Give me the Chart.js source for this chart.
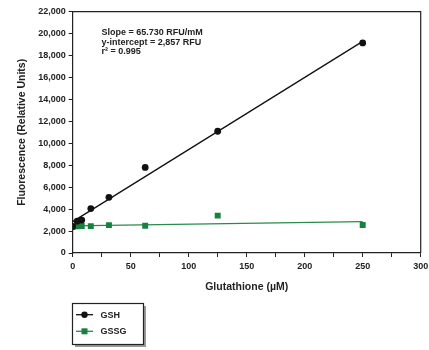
<!DOCTYPE html>
<html>
<head>
<meta charset="utf-8">
<script src="https://cdn.jsdelivr.net/npm/chart.js@4"></script>
<style>
  html, body { margin: 0; padding: 0; background: #fff; }
  #wrap { width: 429px; height: 350px; position: relative; }
</style>
</head>
<body>
<div id="wrap"><canvas id="c" width="429" height="350"></canvas></div>
<script>
// ---- data ----
const concentrations = [0, 3.9, 7.8, 15.6, 31.25, 62.5, 125, 250];      // µM
const gshValues      = [2420, 2900, 3000, 4050, 5080, 7800, 11100, 19150];
const gssgValues     = [2400, 2430, 2460, 2450, 2540, 2480, 3410, 2560];
const fitX           = [0, 250];
const gshFitValues   = [2857, 19290];
const gssgFitValues  = [2480, 2860];
const seriesLabels   = ['GSH', 'GSSG'];
const annotationLines = ['Slope = 65.730 RFU/mM', 'y-intercept = 2,857 RFU', 'r\u00B2 = 0.995'];
const xTitle = 'Glutathione (\u00B5M)';
const yTitle = 'Fluorescence (Relative Units)';

const FONT = 'Arial, "Liberation Sans", Helvetica, sans-serif';
const BLACK = '#111';
const GREEN = '#17813f';
const GREEN_LINE = '#2a8a4c';

const pts = (xs, ys) => xs.map((x, i) => ({x, y: ys[i]}));

const framePlugin = {
  id: 'frame',
  afterDatasetsDraw(chart) {
    const {ctx, chartArea: a} = chart;
    ctx.save();
    ctx.strokeStyle = '#222';
    ctx.lineWidth = 1.2;
    ctx.beginPath();
    ctx.moveTo(a.left, a.top);
    ctx.lineTo(a.right, a.top);
    ctx.lineTo(a.right, a.bottom);
    ctx.stroke();
    // annotation text
    ctx.fillStyle = '#222';
    ctx.font = 'bold 9px ' + FONT;
    ctx.textAlign = 'left';
    ctx.textBaseline = 'alphabetic';
    const baselines = [35, 44.5, 54];
    annotationLines.forEach((t, i) => ctx.fillText(t, 101.5, baselines[i]));
    ctx.restore();
  },
  afterDraw(chart) {
    const {ctx} = chart;
    ctx.save();
    // legend box with shadow
    const bx = 72.5, by = 303.5, bw = 71, bh = 41;
    ctx.fillStyle = '#9a9a9a';
    ctx.fillRect(bx + 2.5, by + 2.5, bw, bh);
    ctx.fillStyle = '#fff';
    ctx.fillRect(bx, by, bw, bh);
    ctx.strokeStyle = '#222';
    ctx.lineWidth = 1.2;
    ctx.strokeRect(bx, by, bw, bh);
    const rows = [314.7, 331.3];
    const colors = [BLACK, GREEN];
    ctx.font = 'bold 9px ' + FONT;
    ctx.textBaseline = 'middle';
    ctx.textAlign = 'left';
    seriesLabels.forEach((lab, i) => {
      const y = rows[i];
      ctx.strokeStyle = i === 0 ? BLACK : GREEN_LINE;
      ctx.lineWidth = 1.3;
      ctx.beginPath();
      ctx.moveTo(76, y);
      ctx.lineTo(93, y);
      ctx.stroke();
      ctx.fillStyle = colors[i];
      if (i === 0) {
        ctx.beginPath();
        ctx.arc(84.5, y, 3.2, 0, Math.PI * 2);
        ctx.fill();
      } else {
        ctx.fillRect(84.5 - 3, y - 3, 6, 6);
      }
      ctx.fillStyle = '#222';
      ctx.fillText(lab, 100.5, y + 0.5);
    });
    ctx.restore();
  }
};

new Chart(document.getElementById('c'), {
  type: 'scatter',
  data: {
    datasets: [
      {
        label: seriesLabels[0] + ' fit',
        data: pts(fitX, gshFitValues),
        showLine: true, borderColor: BLACK, borderWidth: 1.3,
        pointRadius: 0, order: 3
      },
      {
        label: seriesLabels[1] + ' fit',
        data: pts(fitX, gssgFitValues),
        showLine: true, borderColor: GREEN_LINE, borderWidth: 1.3,
        pointRadius: 0, order: 4
      },
      {
        label: seriesLabels[1],
        data: pts(concentrations, gssgValues),
        pointStyle: 'rect', pointRadius: 4.2, pointHoverRadius: 4.2,
        backgroundColor: GREEN, borderColor: GREEN, borderWidth: 0, order: 2
      },
      {
        label: seriesLabels[0],
        data: pts(concentrations, gshValues),
        pointStyle: 'circle', pointRadius: 3.4, pointHoverRadius: 3.4,
        backgroundColor: BLACK, borderColor: BLACK, borderWidth: 0, order: 1
      }
    ]
  },
  options: {
    responsive: false,
    animation: false,
    events: [],
    layout: { padding: { left: 0, right: 8.3, top: 11.7, bottom: 57 } },
    plugins: { legend: { display: false }, tooltip: { enabled: false } },
    scales: {
      x: {
        type: 'linear', min: 0, max: 300,
        afterFit: s => { s.height = 40; s.paddingLeft = 0; s.paddingRight = 0; },
        border: { display: true, color: '#222', width: 1.2 },
        grid: { drawOnChartArea: false, drawTicks: true, tickLength: 4, tickColor: '#222', tickWidth: 1 },
        ticks: {
          stepSize: 25, autoSkip: false, maxRotation: 0, padding: 4,
          color: '#222', font: { family: FONT, size: 9, weight: 'bold' },
          callback: v => (v % 50 === 0 ? String(v) : '')
        },
        title: {
          display: true, text: xTitle, color: '#222',
          font: { family: FONT, size: 10.5, weight: 'bold' },
          padding: { top: 0, bottom: 0 }
        }
      },
      y: {
        type: 'linear', min: 0, max: 22000,
        afterFit: s => { s.width = 72.7; s.paddingTop = 0; s.paddingBottom = 0; },
        border: { display: true, color: '#222', width: 1.2 },
        grid: { drawOnChartArea: false, drawTicks: true, tickLength: 4, tickColor: '#222', tickWidth: 1 },
        ticks: {
          stepSize: 2000, autoSkip: false, padding: 3,
          color: '#222', font: { family: FONT, size: 9, weight: 'bold' },
          callback: v => v.toLocaleString('en-US')
        },
        title: {
          display: true, text: yTitle, color: '#222',
          font: { family: FONT, size: 10.5, weight: 'bold' },
          padding: { top: 15.4, bottom: 0 }
        }
      }
    }
  },
  plugins: [framePlugin]
});
</script>
</body>
</html>
